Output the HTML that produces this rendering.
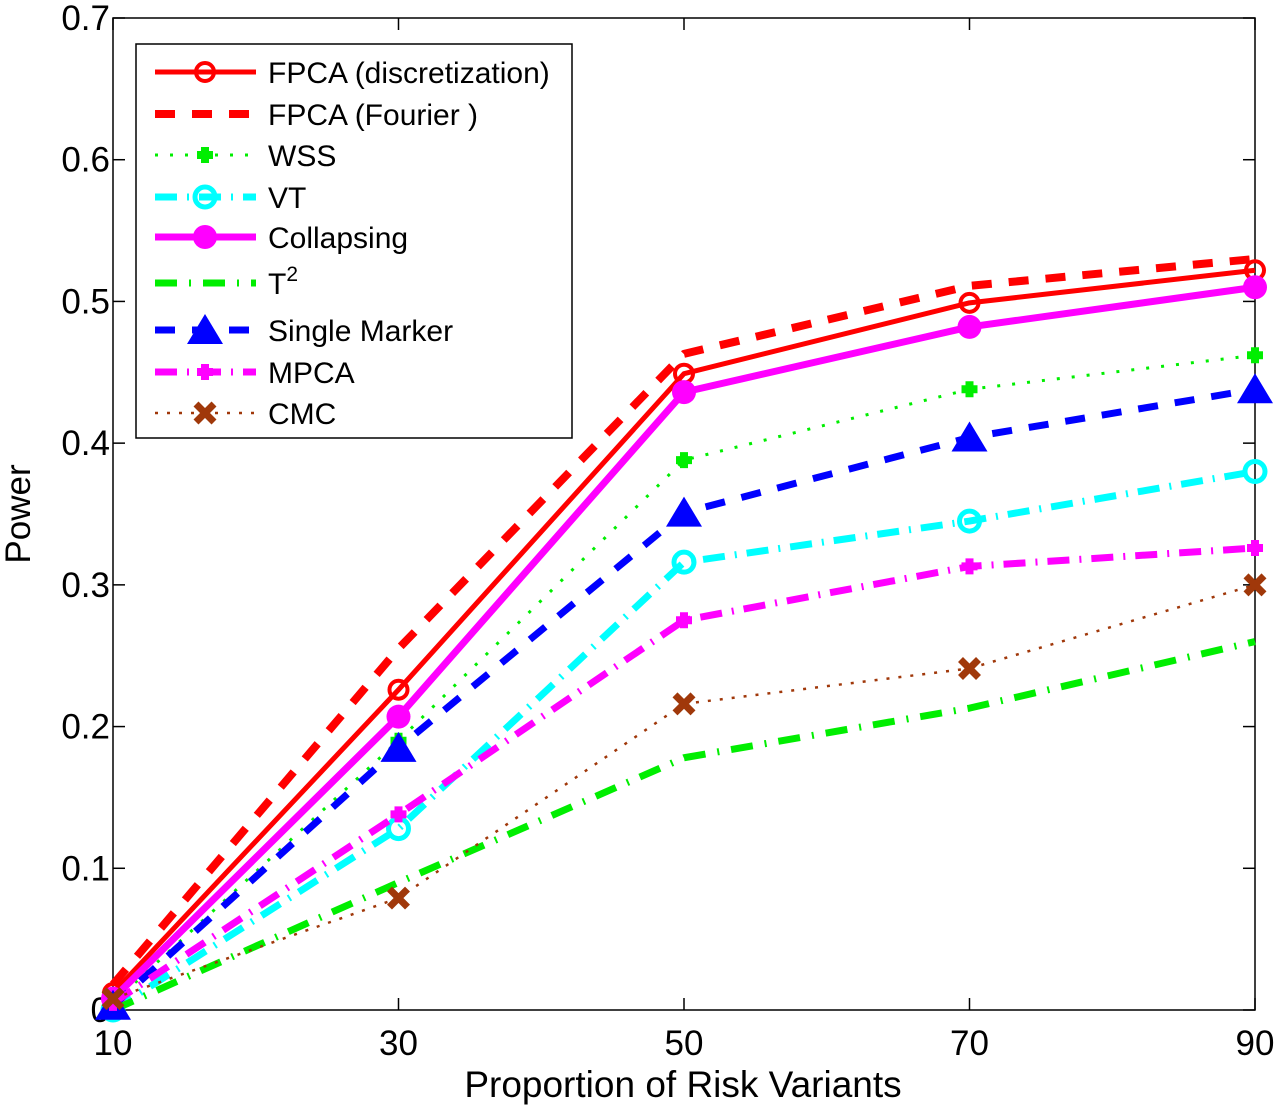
<!DOCTYPE html>
<html><head><meta charset="utf-8"><style>
body{margin:0;background:#fff}
svg{display:block;font-family:"Liberation Sans",Arial,sans-serif}
</style></head><body>
<svg id="chart" width="1280" height="1109" viewBox="0 0 1280 1109"></svg>
<script>
const categories=[10,30,50,70,90];
const yTicks=[0,0.1,0.2,0.3,0.4,0.5,0.6,0.7];
const yTickLabels=["0","0.1","0.2","0.3","0.4","0.5","0.6","0.7"];
const fpcaDisc=[0.012,0.226,0.449,0.499,0.522];
const fpcaFourier=[0.018,0.255,0.463,0.511,0.530];
const wss=[0.005,0.19,0.388,0.438,0.462];
const vt=[0.0,0.128,0.316,0.345,0.380];
const collapsing=[0.008,0.207,0.436,0.482,0.510];
const t2=[0.0,0.09,0.178,0.213,0.26];
const singleMarker=[0.003,0.185,0.351,0.404,0.438];
const mpca=[0.005,0.138,0.275,0.313,0.326];
const cmc=[0.008,0.079,0.216,0.241,0.300];
const seriesNames=["FPCA (discretization)","FPCA (Fourier )","WSS","VT","Collapsing","T2","Single Marker","MPCA","CMC"];

const NS="http://www.w3.org/2000/svg";
const svg=document.getElementById('chart');
const L=113,R=1255,T=18,B=1010;
const xs=v=>L+(v-10)/80*(R-L);
const ys=v=>B-v/0.7*(B-T);
function mk(tag,attrs,parent){const e=document.createElementNS(NS,tag);for(const k in attrs)e.setAttribute(k,attrs[k]);(parent||svg).appendChild(e);return e;}

const styles=[
 {data:fpcaDisc,color:"#ff0000",w:5,dash:"",marker:"circle-open",key:"fpca-discretization"},
 {data:fpcaFourier,color:"#ff0000",w:8,dash:"20 17",marker:"none",key:"fpca-fourier"},
 {data:wss,color:"#00ee00",w:3,dash:"3 12",marker:"cross-fill",key:"wss"},
 {data:vt,color:"#00ffff",w:7,dash:"22 10 2 10",marker:"circle-open-big",key:"vt"},
 {data:collapsing,color:"#ff00ff",w:7,dash:"",marker:"circle-fill",key:"collapsing"},
 {data:t2,color:"#00ee00",w:7,dash:"22 12 2 12",marker:"none",key:"t2"},
 {data:singleMarker,color:"#0000ff",w:7,dash:"20 17",marker:"triangle",key:"single-marker"},
 {data:mpca,color:"#ff00ff",w:7,dash:"22 10 2 10",marker:"plus",key:"mpca"},
 {data:cmc,color:"#a0380a",w:2.5,dash:"3 9",marker:"x",key:"cmc"}
];

function marker(type,x,y,color,g){
 let e;
 if(type==="circle-open"){e=mk('circle',{cx:x,cy:y,r:9,fill:'none',stroke:color,'stroke-width':4},g);}
 else if(type==="circle-open-big"){e=mk('circle',{cx:x,cy:y,r:10,fill:'none',stroke:color,'stroke-width':5},g);}
 else if(type==="circle-fill"){e=mk('circle',{cx:x,cy:y,r:12,fill:color},g);}
 else if(type==="cross-fill"){e=mk('path',{d:`M${x-4},${y-8}h8v4h4v8h-4v4h-8v-4h-4v-8h4z`,fill:color},g);}
 else if(type==="plus"){e=mk('path',{d:`M${x-4},${y-8}h8v4h4v8h-4v4h-8v-4h-4v-8h4z`,fill:color},g);}
 else if(type==="triangle"){e=mk('polygon',{points:`${x},${y-16} ${x+18},${y+14} ${x-18},${y+14}`,fill:color},g);}
 else if(type==="x"){e=mk('path',{d:`M${x-9},${y-9}L${x+9},${y+9}M${x+9},${y-9}L${x-9},${y+9}`,stroke:color,'stroke-width':7,fill:'none'},g);}
 if(e){}
}

const frame=mk('rect',{x:L,y:T,width:R-L,height:B-T,fill:'#fff',stroke:'#000','stroke-width':1.5});


yTicks.forEach((v,i)=>{
 const y=ys(v);
 mk('line',{x1:L,x2:L+12,y1:y,y2:y,stroke:'#000','stroke-width':1.5});
 mk('line',{x1:R,x2:R-12,y1:y,y2:y,stroke:'#000','stroke-width':1.5});
 const t=mk('text',{x:L-3,y:y+12,'font-size':35,'text-anchor':'end'});
 t.textContent=yTickLabels[i];
 
 
});
categories.forEach(v=>{
 const x=xs(v);
 mk('line',{x1:x,x2:x,y1:B,y2:B-12,stroke:'#000','stroke-width':1.5});
 mk('line',{x1:x,x2:x,y1:T,y2:T+12,stroke:'#000','stroke-width':1.5});
 const t=mk('text',{x:x,y:1055,'font-size':35,'text-anchor':'middle'});
 t.textContent=String(v);
 
 
});
const xt=mk('text',{x:683,y:1097,'font-size':37,'text-anchor':'middle'});
xt.textContent="Proportion of Risk Variants";


const yt=mk('text',{x:0,y:0,'font-size':35,'text-anchor':'middle',transform:'translate(30,514) rotate(-90)'});
yt.textContent="Power";



styles.forEach((s,i)=>{
 const g=mk('g',{});
 
 
 const pts=s.data.map((v,j)=>xs(categories[j])+','+ys(v)).join(' ');
 const a={points:pts,fill:'none',stroke:s.color,'stroke-width':s.w,'stroke-linejoin':'round'};
 if(s.dash)a['stroke-dasharray']=s.dash;
 mk('polyline',a,g);
 s.data.forEach((v,j)=>marker(s.marker,xs(categories[j]),ys(v),s.color,g));
});

const lg=mk('g',{});


mk('rect',{x:136,y:44,width:436,height:394,fill:'#fff',stroke:'#000','stroke-width':1.5},lg);
const rows=[72,114,155,197,237,283,330,372,413];
styles.forEach((s,i)=>{
 const y=rows[i];
 const e=mk('g',{},lg);
 
 
 const a={x1:155,x2:256,y1:y,y2:y,stroke:s.color,'stroke-width':s.w};
 if(s.dash)a['stroke-dasharray']=s.dash;
 mk('line',a,e);
 marker(s.marker,205,y,s.color,e);
 const t=mk('text',{x:268,y:y+11,'font-size':30},e);
 if(seriesNames[i]==="T2"){t.textContent="T";const sp=mk('tspan',{dy:-13,'font-size':21},t);sp.textContent="2";}
 else t.textContent=seriesNames[i];
});
</script>
</body></html>
